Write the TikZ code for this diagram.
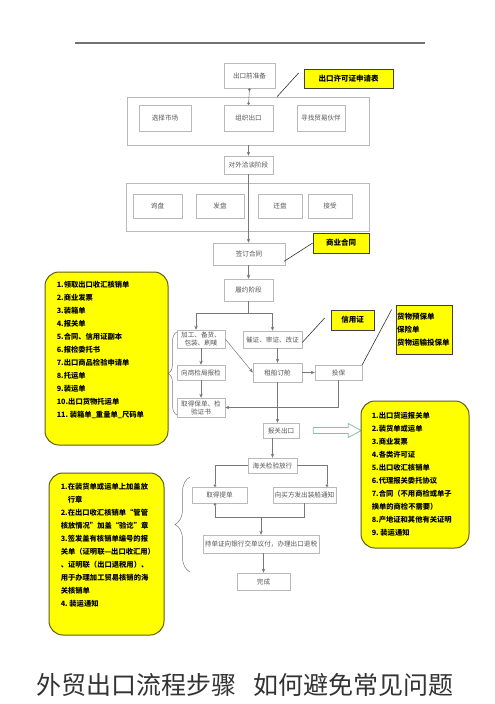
\documentclass[tikz,border=0pt]{standalone}
\usepackage{fontspec}
\setmainfont{Noto Sans CJK SC}
\usetikzlibrary{arrows.meta, calc, positioning, decorations.pathreplacing}
\definecolor{boxgray}{RGB}{185,185,185}
\definecolor{linegray}{RGB}{120,120,120}
\definecolor{textgray}{RGB}{85,85,85}
\definecolor{noteyellow}{RGB}{255,255,0}
\definecolor{listrim}{RGB}{95,95,25}
\definecolor{hollowgreen}{RGB}{140,190,165}
\tikzset{
every picture/.style={line width=0.5pt, >={Stealth[length=4pt,width=3.4pt]}},
%%%%%%%%%%  Node styles
stepbox/.style={draw=boxgray, fill=white, text=textgray, inner sep=0.5pt,
                align=center, font=\fontsize{6.6}{8}\selectfont},
groupbox/.style={draw=boxgray, inner sep=0pt},
yellownote/.style={draw=black!75, fill=noteyellow, inner sep=1pt, line width=0.8pt,
                   font=\bfseries\fontsize{7.5}{13}\selectfont},
doclist/.style={draw=listrim, fill=noteyellow, rounded corners=14pt,
                line width=1pt, inner sep=0pt},
listtext/.style={align=left, inner sep=0pt, font=\bfseries\fontsize{7.3}{13}\selectfont},
%%%% different line styles:
flow/.style={draw=linegray, ->},
plainflow/.style={draw=linegray},
dotflow/.style={draw=linegray, -{Circle[length=2.6pt]}},
pointer/.style={draw=black!80, line width=0.6pt},
sidebrace/.style={draw=linegray, decorate, decoration={brace, amplitude=#1}},
hollowarrow/.style={draw=hollowgreen, fill=white, line width=0.8pt}
}

\begin{document}
\begin{tikzpicture}[x=1pt, y=-1pt]
\fill[white] (0,0) rectangle (495,704);
\useasboundingbox (0,0) rectangle (495,704);
%% top rule
\draw[line width=1.2pt, black!55] (75,43) -- (425,43);
%%%%%%%%%%%%%%%%%%%%%%%%%%%%%%%%%%%%%%%%%%%%%%
%% preparation stage
\node[stepbox, minimum width=51pt, minimum height=25pt] (prep) at (249.5,75.5) {出口前准备};
\node[yellownote, minimum width=89pt, minimum height=19pt] (permit) at (348.5,78.5) {出口许可证申请表};
\node[groupbox, minimum width=242pt, minimum height=48pt] (org) at (248,121) {};
\node[stepbox, minimum width=52pt, minimum height=26pt] (market) at (165,118) {选择市场};
\node[stepbox, minimum width=49pt, minimum height=26pt] (organize) at (248.5,118) {组织出口};
\node[stepbox, minimum width=48pt, minimum height=26pt] (partner) at (321,118) {寻找贸易伙伴};
\draw[pointer] ($(org.north)+(29,0)$) -- ($(permit.west)+(-5,-5.5)$);
\draw[plainflow, {Circle[length=2.6pt]}-{Circle[length=2.6pt]}] (prep.south) -- (organize.north);
%%%%%%%%%%%%%%%%%%%%%%%%%%%%%%%%%%%%%%%%%%%%%%
%% negotiation stage
\node[stepbox, minimum width=49pt, minimum height=18pt] (nego) at (248.5,165) {对外洽谈阶段};
\node[groupbox, minimum width=243pt, minimum height=48pt] (talks) at (247.5,207) {};
\node[stepbox, minimum width=49pt, minimum height=24pt] (inquiry) at (157.5,206) {询盘};
\node[stepbox, minimum width=48pt, minimum height=24pt] (offer) at (220,206) {发盘};
\node[stepbox, minimum width=44pt, minimum height=24pt] (counter) at (280,206) {还盘};
\node[stepbox, minimum width=44pt, minimum height=24pt] (accept) at (330,206) {接受};
\draw[flow] (org.south -| nego.north) -- (nego.north);
%%%%%%%%%%%%%%%%%%%%%%%%%%%%%%%%%%%%%%%%%%%%%%
%% contract
\node[stepbox, minimum width=72pt, minimum height=22pt] (contract) at (249,254) {签订合同};
\node[yellownote, minimum width=56pt, minimum height=20pt] (bizcontract) at (341,243) {商业合同};
\draw[flow] (nego.south) -- (nego.south |- contract.north);
\draw[pointer] ($(contract.south east)+(-1,-4)$) -- (bizcontract.west);
\node[stepbox, minimum width=49pt, minimum height=22pt] (perform) at (248.5,290) {履约阶段};
\draw[flow] (contract.south -| perform.north) -- (perform.north);
%%%%%%%%%%%%%%%%%%%%%%%%%%%%%%%%%%%%%%%%%%%%%%
%% performing the contract
\node[stepbox, minimum width=48pt, minimum height=18pt] (goods) at (201,339) {加工、备货、\\包装、刷唛};
\node[stepbox, minimum width=59pt, minimum height=17pt] (lc) at (272.5,339.5) {催证、审证、改证};
\node[yellownote, minimum width=43pt, minimum height=20pt] (lcnote) at (352.5,320) {信用证};
\node[stepbox, minimum width=48pt, minimum height=15pt] (inspect) at (201,372.5) {向商检局报检};
\node[stepbox, minimum width=49pt, minimum height=19pt] (booking) at (277.5,372.5) {租船订舱};
\node[stepbox, minimum width=47pt, minimum height=15pt] (insure) at (338.5,372.5) {投保};
\node[yellownote, align=left, text width=54pt, minimum height=49pt] (insnote) at (424,329.5)
  {货物预保单\\保险单\\货物运输投保单};
\node[stepbox, minimum width=48pt, minimum height=19pt] (certs) at (201,407.5) {取得保单、检\\验证书};
\path (perform.south) ++(0,12) coordinate (split);
\draw[plainflow] (perform.south) -- (split);
\draw[flow] (split) -| ($(goods.north)+(-5,0)$);
\draw[flow] (split) -| (lc.north);
\draw[pointer] ($(lc.east)+(0,3)$) -- ($(lcnote.west)+(-6,-2)$);
\draw[flow] (goods.south -| inspect.north) -- (inspect.north);
\draw[flow] (inspect.south) -- (certs.north);
\draw[flow] (goods.east) -- (booking.west);
\draw[flow] (lc.south -| booking.north) -- (booking.north);
\draw[flow] (booking.east) -- (insure.west);
\draw[pointer] (insure.north east) -- ($(insnote.north west)+(-4,5)$);
\draw[flow] (insure.south) |- (certs.east);
%% brace towards the document list
\draw[sidebrace=9pt] (177,415) -- (177,332);
%%%%%%%%%%%%%%%%%%%%%%%%%%%%%%%%%%%%%%%%%%%%%%
%% customs and settlement
\node[stepbox, minimum width=36pt, minimum height=15pt] (declare) at (281,430.5) {报关出口};
\node[stepbox, minimum width=49pt, minimum height=15pt] (customs) at (272.5,465.5) {海关检验放行};
\node[stepbox, minimum width=55pt, minimum height=16pt] (bill) at (219.5,495) {取得提单};
\node[stepbox, minimum width=63pt, minimum height=16pt] (notify) at (304.5,495) {向买方发出装船通知};
\node[stepbox, minimum width=116pt, minimum height=18pt] (bankdoc) at (261,544) {持单证向银行交单议付，办理出口退税};
\node[stepbox, minimum width=53pt, minimum height=17pt] (done) at (263.5,581.5) {完成};
\draw[flow] (booking.south) -- (booking.south |- declare.north);
\draw[flow] (declare.south -| customs.north) -- (customs.north);
\draw[dotflow] (customs.west) -| ($(bill.north)+(-4.5,0)$);
\draw[dotflow] (customs.east) -| ($(notify.north)+(22.5,0)$);
\path (bill.south) ++(0,14) coordinate (merge);
\draw[plainflow, {Circle[length=2.6pt]}-] ($(bill.south)+(-4.5,0)$) |- (merge -| notify.south) -- (notify.south);
\draw[flow] (merge -| bankdoc.north) -- (bankdoc.north);
\draw[flow] (bankdoc.south -| done.north) -- (done.north);
\draw[sidebrace=15pt] (190,572) -- (190,477);
%% hollow arrow towards the customs documents
\draw[hollowarrow] ($(declare.east)+(14,-3)$) -- ++(35,0) -- ++(0,-4) -- ++(13,7)
  -- ++(-13,7) -- ++(0,-4) -- ++(-35,0) -- cycle;
%%%%%%%%%%%%%%%%%%%%%%%%%%%%%%%%%%%%%%%%%%%%%%
%% yellow document lists
\node[doclist, minimum width=123pt, minimum height=173pt] (docsA) at (106.5,358.5) {};
\node[listtext, anchor=north west] (docsAtext) at ($(docsA.north west)+(12,9)$)
  {1.领取出口收汇核销单\\2.商业发票\\3.装箱单\\4.报关单\\5.合同、信用证副本\\6.报检委托书\\
   7.出口商品检验申请单\\8.托运单\\9.装运单\\10.出口货物托运单\\11.\ 装箱单\_重量单\_尺码单};
\node[doclist, minimum width=108pt, minimum height=147pt] (docsB) at (415,474.5) {};
\node[listtext, anchor=north west] (docsBtext) at ($(docsB.north west)+(11,11.5)$)
  {1.出口货运报关单\\2.装货单或运单\\3.商业发票\\4.各类许可证\\5.出口收汇核销单\\
   6.代理报关委托协议\\7.合同（不用商检或单子\\换单的商检不需要）\\8.产地证和其他有关证明\\9.\ 装运通知};
\node[doclist, minimum width=115pt, minimum height=162pt] (docsC) at (106.5,554) {};
\node[listtext, anchor=north west] (docsCtext) at ($(docsC.north west)+(12,10.5)$)
  {1.在装货单或运单上加盖放\\\hspace*{7pt}行章\\2.在出口收汇核销单“管管\\核放情况”加盖“验讫”章\\
   3.签发盖有核销单编号的报\\关单（证明联—出口收汇用）\\、证明联（出口退税用）、\\
   用于办理加工贸易核销的海\\关核销单\\4.\ 装运通知};
%%%%%%%%%%%%%%%%%%%%%%%%%%%%%%%%%%%%%%%%%%%%%%
%% caption
\node[font=\fontsize{25}{25}\selectfont, text=black!80, inner sep=0pt] (caption) at (245,685)
  {外贸出口流程步骤\hspace{17pt}如何避免常见问题};
\end{tikzpicture}
\end{document}
